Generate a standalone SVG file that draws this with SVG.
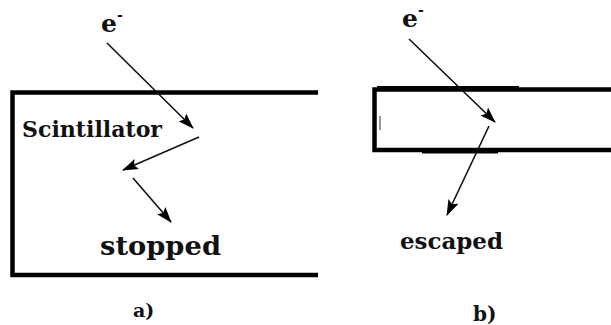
<svg xmlns="http://www.w3.org/2000/svg" width="611" height="325" viewBox="0 0 611 325">
<style>
.lbl{font-family:"DejaVu Serif","Liberation Serif",serif;font-weight:bold;fill:#111}
.box{fill:none;stroke:#000;stroke-width:4.5;stroke-linejoin:miter}
.arr{stroke:#111;stroke-width:1.6;fill:none;marker-end:url(#ah)}
</style>
<defs>
<marker id="ah" markerUnits="userSpaceOnUse" viewBox="0 0 16 11" markerWidth="16" markerHeight="11" refX="15" refY="5.5" orient="auto">
<path d="M0,0 L16,5.5 L0,11 L3,5.5 z" fill="#000"/>
</marker>
</defs>
<rect width="611" height="325" fill="#fff"/>
<g id="scintillator-a">
<path class="box" d="M318,92.5 H12.5 V275 H318"/>
<text class="lbl" x="22" y="137" font-size="22" textLength="140" lengthAdjust="spacingAndGlyphs">Scintillator</text>
</g>
<g id="labels-a">
<text class="lbl" x="101" y="32" font-size="25">e<tspan font-size="14" dy="-12">-</tspan></text>
<text class="lbl" x="100" y="255" font-size="26" textLength="121" lengthAdjust="spacingAndGlyphs">stopped</text>
<text class="lbl" x="133" y="317" font-size="19">a)</text>
</g>
<g id="scintillator-b">
<path class="box" d="M611,89.5 H374.5 V150 H611"/>
<line x1="377" y1="87.5" x2="519" y2="87.5" stroke="#000" stroke-width="3"/>
<line x1="422" y1="152" x2="498" y2="152" stroke="#000" stroke-width="3"/>
<line x1="380" y1="116" x2="380" y2="130" stroke="#333" stroke-width="1"/>
</g>
<g id="labels-b">
<text class="lbl" x="402" y="27" font-size="25">e<tspan font-size="14" dy="-12">-</tspan></text>
<text class="lbl" x="400" y="249" font-size="22" textLength="103" lengthAdjust="spacingAndGlyphs">escaped</text>
<text class="lbl" x="473" y="321" font-size="20">b)</text>
</g>
<g id="connectors">
<line class="arr" x1="107" y1="43" x2="193" y2="128"/>
<line class="arr" x1="199" y1="137" x2="123" y2="170"/>
<line class="arr" x1="133" y1="178" x2="171" y2="222"/>
<line class="arr" x1="409" y1="39" x2="495" y2="122"/>
<line class="arr" x1="489" y1="126" x2="447" y2="215"/>
</g>
</svg>
